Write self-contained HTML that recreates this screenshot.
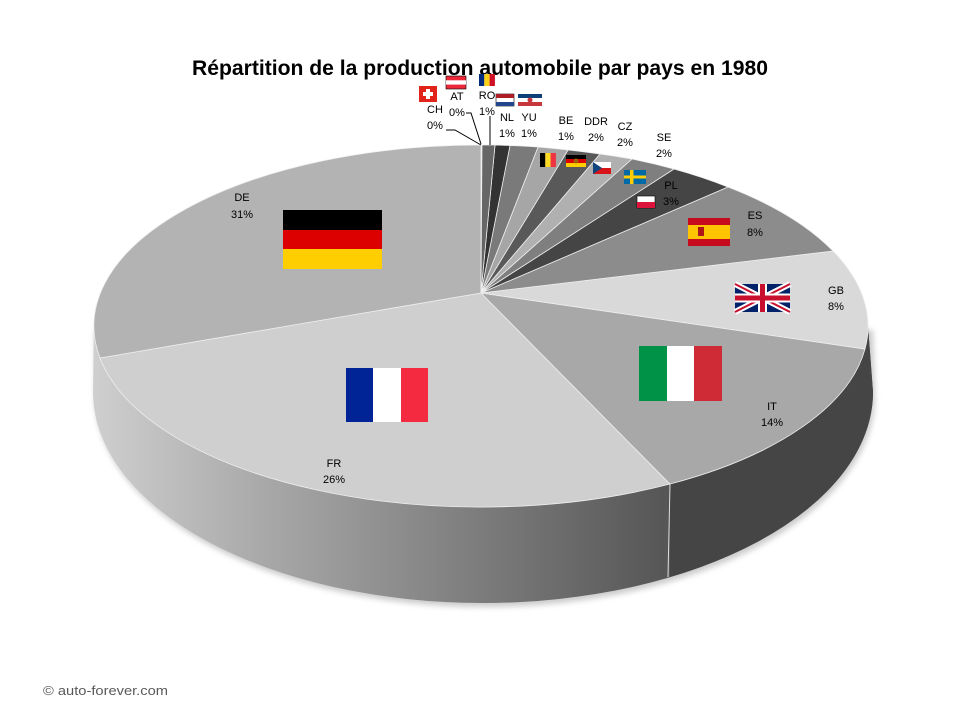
<!DOCTYPE html>
<html><head><meta charset="utf-8"><style>
body{margin:0;background:#fff;}
svg text{font-family:"Liberation Sans",sans-serif;}
</style></head><body>
<svg width="960" height="720" viewBox="0 0 960 720" xmlns="http://www.w3.org/2000/svg">
<defs>
<linearGradient id="frs" x1="93" y1="0" x2="670" y2="0" gradientUnits="userSpaceOnUse">
<stop offset="0" stop-color="#cfcfcf"/><stop offset="0.3" stop-color="#a8a8a8"/><stop offset="1" stop-color="#555"/></linearGradient>
<filter id="sh" x="-10%" y="-10%" width="120%" height="130%"><feGaussianBlur stdDeviation="3"/></filter>
</defs>
<text x="192" y="75" font-size="21" font-weight="bold" fill="#000" textLength="576" lengthAdjust="spacingAndGlyphs">Répartition de la production automobile par pays en 1980</text>
<path d="M95,330 L95,396 A390 211 0 0 0 875,396 L873,330 Z" fill="#999" filter="url(#sh)" opacity="0.5"/>
<path d="M94,326 A387 181 0 0 0 868,326 L873,392 A390 211 0 0 1 93,392 Z" fill="url(#frs)"/>
<path d="M670,484 A387 181 0 0 0 868,326 L873,392 A390 211 0 0 1 670,577 Z" fill="#454545"/>
<line x1="670" y1="484" x2="668" y2="577" stroke="#ddd" stroke-width="1"/>
<g stroke="#eee" stroke-width="0.8">
<path d="M481,293 L670,484 A387 181 0 0 1 100,358 Z" fill="#cfcfcf"/>
<path d="M481,293 L100,358 A387 181 0 0 1 481,145 Z" fill="#b3b3b3"/>
<path d="M481,293 L865,349 A387 181 0 0 1 670,484 Z" fill="#a8a8a8"/>
<path d="M481,293 L833,251 A387 181 0 0 1 865,349 Z" fill="#d9d9d9"/>
<path d="M481,293 L728,187 A387 181 0 0 1 833,251 Z" fill="#8c8c8c"/>
<path d="M481,293 L674,169 A387 181 0 0 1 728,187 Z" fill="#454545"/>
<path d="M481,293 L632,159 A387 181 0 0 1 674,169 Z" fill="#7f7f7f"/>
<path d="M481,293 L600,154 A387 181 0 0 1 632,159 Z" fill="#b0b0b0"/>
<path d="M481,293 L568,150 A387 181 0 0 1 600,154 Z" fill="#595959"/>
<path d="M481,293 L538,147 A387 181 0 0 1 568,150 Z" fill="#a6a6a6"/>
<path d="M481,293 L510,145.5 A387 181 0 0 1 538,147 Z" fill="#7a7a7a"/>
<path d="M481,293 L495,145 A387 181 0 0 1 510,145.5 Z" fill="#333"/>
<path d="M481,293 L482,145 A387 181 0 0 1 495,145 Z" fill="#666"/>
</g>
<g stroke="#000" stroke-width="1" fill="none">
<polyline points="446,130 455,130 481,145"/>
<polyline points="466,113 471,113 481,144"/>
<polyline points="490,116 490,145"/>
</g>
<g font-size="11" fill="#000" text-anchor="middle">
<text x="435" y="113">CH</text><text x="435" y="129">0%</text>
<text x="457" y="100">AT</text><text x="457" y="116">0%</text>
<text x="487" y="99">RO</text><text x="487" y="115">1%</text>
<text x="507" y="121">NL</text><text x="507" y="137">1%</text>
<text x="529" y="121">YU</text><text x="529" y="137">1%</text>
<text x="566" y="124">BE</text><text x="566" y="140">1%</text>
<text x="596" y="125">DDR</text><text x="596" y="141">2%</text>
<text x="625" y="130">CZ</text><text x="625" y="146">2%</text>
<text x="664" y="141">SE</text><text x="664" y="157">2%</text>
<text x="671" y="189">PL</text><text x="671" y="205">3%</text>
<text x="755" y="219">ES</text><text x="755" y="236">8%</text>
<text x="836" y="294">GB</text><text x="836" y="310">8%</text>
<text x="772" y="410">IT</text><text x="772" y="426">14%</text>
<text x="334" y="467">FR</text><text x="334" y="483">26%</text>
<text x="242" y="201">DE</text><text x="242" y="218">31%</text>
</g>
<rect x="419" y="86" width="18" height="16" fill="#e2231a"/><rect x="426" y="89" width="4" height="10" fill="#fff"/><rect x="423" y="92" width="10" height="4" fill="#fff"/>
<rect x="446" y="76" width="20" height="13" fill="#ed2939" stroke="#000" stroke-width="0.6"/><rect x="446" y="80.3" width="20" height="4.3" fill="#fff"/>
<rect x="479" y="74" width="5.3" height="12" fill="#002b7f"/><rect x="484.3" y="74" width="5.3" height="12" fill="#fcd116"/><rect x="489.6" y="74" width="5.3" height="12" fill="#ce1126"/>
<rect x="496" y="94" width="18" height="12" fill="#fff" stroke="#000" stroke-width="0.6"/><rect x="496" y="94" width="18" height="4" fill="#ae1c28"/><rect x="496" y="102" width="18" height="4" fill="#21468b"/>
<rect x="518" y="94" width="24" height="4" fill="#0c4076"/><rect x="518" y="98" width="24" height="4" fill="#fff"/><rect x="518" y="102" width="24" height="4" fill="#c6363c"/><circle cx="530" cy="100" r="2.5" fill="#c6363c"/>
<rect x="540" y="153" width="5.3" height="14" fill="#000"/><rect x="545.3" y="153" width="5.3" height="14" fill="#fdda24"/><rect x="550.6" y="153" width="5.3" height="14" fill="#ef3340"/>
<rect x="566" y="155" width="20" height="4" fill="#000"/><rect x="566" y="159" width="20" height="4" fill="#dd0000"/><rect x="566" y="163" width="20" height="4" fill="#ffce00"/><circle cx="576" cy="161" r="2.5" fill="#a06000"/>
<rect x="593" y="162" width="18" height="6" fill="#fff"/><rect x="593" y="168" width="18" height="6" fill="#d7141a"/><polygon points="593,162 602,168 593,174" fill="#11457e"/>
<rect x="624" y="170" width="22" height="14" fill="#006aa7"/><rect x="630" y="170" width="3.5" height="14" fill="#fecc00"/><rect x="624" y="175.5" width="22" height="3" fill="#fecc00"/>
<rect x="637" y="196" width="18" height="12" fill="#fff" stroke="#000" stroke-width="0.6"/><rect x="637" y="202" width="18" height="6" fill="#dc143c"/>
<rect x="688" y="218" width="42" height="28" fill="#c60b1e"/><rect x="688" y="225" width="42" height="14" fill="#ffc400"/><rect x="698" y="227" width="6" height="9" fill="#ad1519"/>
<g>
<rect x="735" y="284" width="55" height="28" fill="#012169"/>
<path d="M735,284 L790,312 M790,284 L735,312" stroke="#fff" stroke-width="6"/>
<path d="M735,284 L790,312 M790,284 L735,312" stroke="#c8102e" stroke-width="2"/>
<rect x="758" y="284" width="9" height="28" fill="#fff"/><rect x="735" y="293.5" width="55" height="9" fill="#fff"/>
<rect x="760" y="284" width="5" height="28" fill="#c8102e"/><rect x="735" y="295.5" width="55" height="5" fill="#c8102e"/>
</g>
<rect x="639" y="346" width="28" height="55" fill="#009246"/><rect x="667" y="346" width="27" height="55" fill="#fff"/><rect x="694" y="346" width="28" height="55" fill="#ce2b37"/>
<rect x="346" y="368" width="27" height="54" fill="#002395"/><rect x="373" y="368" width="28" height="54" fill="#fff"/><rect x="401" y="368" width="27" height="54" fill="#f42a41"/>
<rect x="283" y="210" width="99" height="20" fill="#000"/><rect x="283" y="230" width="99" height="19" fill="#dd0000"/><rect x="283" y="249" width="99" height="20" fill="#ffce00"/>
<text x="43" y="695" font-size="13" fill="#595959" textLength="125" lengthAdjust="spacingAndGlyphs">© auto-forever.com</text>
</svg>
</body></html>
